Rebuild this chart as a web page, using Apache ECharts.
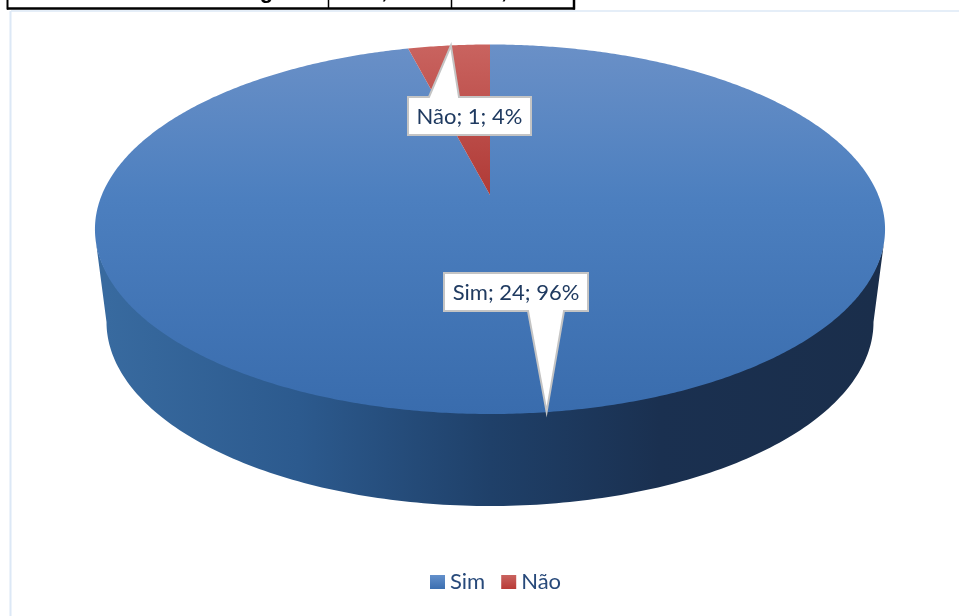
<!DOCTYPE html>
<html>
<head>
<meta charset="utf-8">
<style>html,body{margin:0;padding:0;background:#fff}#c{width:959px;height:616px}</style>
<script src="https://cdn.jsdelivr.net/npm/echarts@6/dist/echarts.min.js"></script>
</head>
<body>
<div id="c"></div>
<script>
var categories = ['Sim', 'Não'];
var values = [24, 1];
var tableCells = ['Percentage', '96,00%', '4,00%'];

var total = values.reduce(function (a, b) { return a + b; }, 0);
var FONT = 'Lato, "Noto Sans", sans-serif';
var DISC = { cx: 490, apexY: 195, a: 178.4, b: 388.2, k: 0.1854 };
var RIM_TOP = { cx: 490, cy: 229.5, rx: 395, ry: 178 };
var RIM_BOTTOM = { cx: 490, cy: 322, rx: 383.5, ry: 184 };

function project(frac) {
  var t = frac * 2 * Math.PI;
  var X = Math.sin(t), Y = Math.cos(t), w = 1 + DISC.k * Y;
  return [DISC.cx + DISC.b * X / w, DISC.apexY - DISC.a * Y / w];
}
function linear(x, y, x2, y2, stops) {
  return { type: 'linear', x: x, y: y, x2: x2, y2: y2, global: true,
    colorStops: stops.map(function (s) { return { offset: s[0], color: s[1] }; }) };
}
function keyFill(c1, c2) {
  return { type: 'linear', x: 0, y: 0, x2: 0, y2: 1,
    colorStops: [{ offset: 0, color: c1 }, { offset: 1, color: c2 }] };
}
var fills = [
  linear(0, 44, 0, 414, [[0, '#6a90c7'], [0.42, '#4c7fbf'], [1, '#396cad']]),
  linear(0, 46, 0, 195, [[0, '#c9635f'], [1, '#b03a36']])
];
var wallFill = linear(107, 0, 875, 0, [[0, '#386a9f'], [0.25, '#2c5a8e'], [0.5, '#1f4069'], [0.72, '#1a3050'], [1, '#1a2e4b']]);
var callouts = [
  { box: [444, 273, 144, 38], base: [528, 564], tipDx: -3 },
  { box: [408, 97, 123, 38], base: [429, 459], tipDx: 2 }
];

function wallPoints() {
  var pts = [], d;
  for (d = 3; d <= 177; d += 1) {
    var r = d * Math.PI / 180;
    pts.push([RIM_TOP.cx + RIM_TOP.rx * Math.cos(r), RIM_TOP.cy + RIM_TOP.ry * Math.sin(r)]);
  }
  for (d = 180; d >= 0; d -= 1) {
    var q = d * Math.PI / 180;
    pts.push([RIM_BOTTOM.cx + RIM_BOTTOM.rx * Math.cos(q), RIM_BOTTOM.cy + RIM_BOTTOM.ry * Math.sin(q)]);
  }
  return pts;
}

function sliceRenderer(index) {
  return function (params, api) {
    var value = api.value(0);
    var before = 0;
    for (var i = 0; i < index; i++) before += values[i];
    var f0 = before / total, f1 = (before + value) / total;
    var pts = [[DISC.cx, DISC.apexY]];
    var steps = Math.ceil((f1 - f0) * 720);
    for (var s = 0; s <= steps; s++) pts.push(project(f0 + (f1 - f0) * s / steps));
    var children = [];
    if (index === 0) {
      children.push({ type: 'polygon', z2: 1, shape: { points: wallPoints() }, style: { fill: wallFill } });
    }
    children.push({ type: 'polygon', z2: 2, shape: { points: pts }, style: { fill: fills[index] } });

    var c = callouts[index], mid = project((f0 + f1) / 2), tip = [mid[0] + c.tipDx, mid[1]];
    var x = c.box[0], y = c.box[1], w = c.box[2], h = c.box[3];
    var edgeY = tip[1] > y + h ? y + h : y;
    var outline;
    if (edgeY === y) {
      outline = [[x, y], [c.base[0], y], tip, [c.base[1], y], [x + w, y], [x + w, y + h], [x, y + h]];
    } else {
      outline = [[x, y], [x + w, y], [x + w, y + h], [c.base[1], y + h], tip, [c.base[0], y + h], [x, y + h]];
    }
    children.push({ type: 'polygon', z2: 10, shape: { points: outline },
      style: { fill: '#ffffff', stroke: '#c4c4c4', lineWidth: 2, lineJoin: 'miter', miterLimit: 20 } });
    children.push({ type: 'text', z2: 11, style: {
      x: x + w / 2, y: y + h / 2 + 1, align: 'center', verticalAlign: 'middle',
      text: categories[index] + '; ' + value + '; ' + Math.round(value / total * 100) + '%',
      font: '22px ' + FONT, fill: '#1f3a60' } });
    return { type: 'group', children: children };
  };
}

function seg(x1, y1, x2, y2, color, width) {
  return { type: 'line', silent: true, shape: { x1: x1, y1: y1, x2: x2, y2: y2 },
    style: { stroke: color, lineWidth: width } };
}
function cellText(t, x) {
  return { type: 'text', silent: true, style: { x: x, y: -8, align: 'center', verticalAlign: 'middle',
    text: t, font: 'bold 22px "Liberation Sans", Arial, sans-serif', fill: '#000' } };
}

var chart = echarts.init(document.getElementById('c'), null, { renderer: 'canvas', width: 959, height: 616 });
chart.setOption({
  animation: false,
  backgroundColor: '#ffffff',
  legend: {
    left: 430, top: 571, padding: 0, icon: 'rect', itemWidth: 15, itemHeight: 14, itemGap: 16,
    textStyle: { fontFamily: FONT, fontSize: 22, color: '#27497a' },
    data: [
      { name: categories[0], itemStyle: { color: keyFill('#6390cb', '#3c6fb0') } },
      { name: categories[1], itemStyle: { color: keyFill('#c9635f', '#b93a36') } }
    ]
  },
  graphic: [
    seg(11, 11, 959, 11, '#dce8f6', 1.5),
    seg(10.5, 11, 10.5, 616, '#dce8f6', 2),
    seg(7.5, 0, 7.5, 9.5, '#000', 2),
    seg(7, 8.5, 575, 8.5, '#000', 2.5),
    seg(328.5, 0, 328.5, 8, '#000', 1.5),
    seg(451.5, 0, 451.5, 8, '#000', 1.5),
    seg(574, 0, 574, 9.5, '#000', 2.5),
    cellText(tableCells[0], 226),
    cellText(tableCells[1], 394),
    cellText(tableCells[2], 520)
  ],
  series: categories.map(function (name, i) {
    return {
      type: 'custom', name: name, coordinateSystem: 'none',
      itemStyle: { color: i === 0 ? '#4c7fbf' : '#c0504d' },
      renderItem: sliceRenderer(i),
      data: [[values[i]]]
    };
  })
});
</script>
</body>
</html>
